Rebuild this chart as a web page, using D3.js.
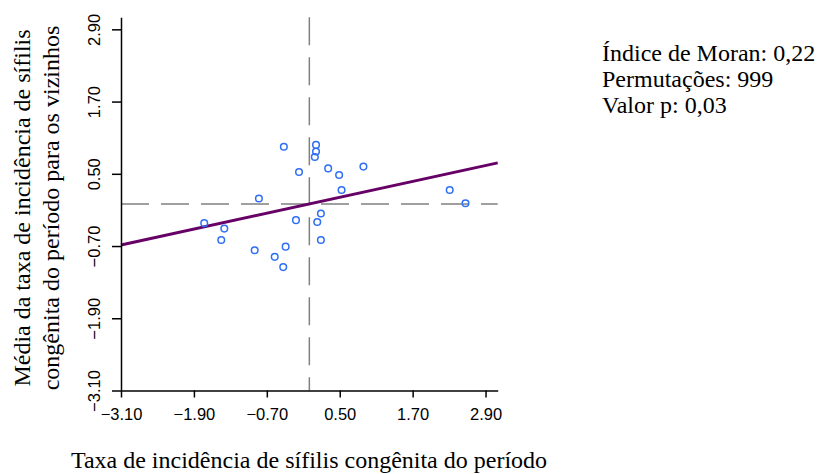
<!DOCTYPE html>
<html>
<head>
<meta charset="utf-8">
<script src="https://cdn.jsdelivr.net/npm/d3@7"></script>
<style>
  body { margin: 0; background: #fff; }
  svg { display: block; }
</style>
</head>
<body>
<svg id="chart" width="821" height="474"></svg>
<script>
// standardized rate (x) and spatial lag (y) per municipality
const zValues = [-0.42, 0.11, 0.11, 0.09, -0.17, 0.31, 0.49, 0.89, 0.53, -0.83, 2.31, 2.57,
  -1.73, -1.40, -1.45, -0.22, 0.19, 0.13, 0.19, -0.90, -0.39, -0.57, -0.43]
const lagValues = [0.95, 0.98, 0.87, 0.78, 0.53, 0.59, 0.48, 0.62, 0.23, 0.09, 0.23, 0.01,
  -0.32, -0.41, -0.60, -0.27, -0.16, -0.30, -0.60, -0.77, -0.71, -0.88, -1.05]
const tickValues = [-3.1, -1.9, -0.7, 0.5, 1.7, 2.9]
const moranI = 0.22
const statsLines = ['Índice de Moran: 0,22', 'Permutações: 999', 'Valor p: 0,03']

const svg = d3.select('#chart')

const x = d3.scaleLinear().domain([-3.1, 3.1]).range([121, 497.7])
const y = d3.scaleLinear().domain([-3.1, 3.1]).range([390.5, 17.3])

const serif = 'Liberation Serif, Times New Roman, serif'
const sans = 'Liberation Sans, Arial, sans-serif'

// mean lines (dashed)
svg.append('line')
  .attr('x1', x(0)).attr('x2', x(0))
  .attr('y1', y(3.1)).attr('y2', y(-3.1))
  .attr('stroke', '#808080').attr('stroke-width', 1.5)
  .attr('stroke-dasharray', '28,12')
svg.append('line')
  .attr('x1', x(-3.1)).attr('x2', x(3.1))
  .attr('y1', y(0)).attr('y2', y(0))
  .attr('stroke', '#808080').attr('stroke-width', 1.5)
  .attr('stroke-dasharray', '28,12')

// regression line, slope = Moran's I
svg.append('line')
  .attr('x1', x(-3.1)).attr('y1', y(-3.1 * moranI))
  .attr('x2', x(3.1)).attr('y2', y(3.1 * moranI))
  .attr('stroke', '#660066').attr('stroke-width', 3)

// points
svg.append('g')
  .selectAll('circle')
  .data(zValues)
  .join('circle')
  .attr('cx', (d) => x(d))
  .attr('cy', (d, i) => y(lagValues[i]))
  .attr('r', 3.3)
  .attr('fill', 'none')
  .attr('stroke', '#2f6ff5')
  .attr('stroke-width', 1.5)

const fmt = d3.format('.2f')

// x axis
const xAxis = svg.append('g')
  .attr('transform', `translate(0,${y(-3.1)})`)
  .call(d3.axisBottom(x).tickValues(tickValues).tickFormat(fmt).tickSize(7).tickSizeOuter(0).tickPadding(11))
xAxis.select('.domain').attr('stroke-width', 1.5)
xAxis.selectAll('.tick line').attr('stroke-width', 1.5)
xAxis.selectAll('text')
  .attr('font-family', sans)
  .attr('font-size', 16.5)
  .attr('fill', '#000')

// y axis
const yAxis = svg.append('g')
  .attr('transform', `translate(${x(-3.1)},0)`)
  .call(d3.axisLeft(y).tickValues(tickValues).tickFormat(fmt).tickSize(9).tickSizeOuter(0))
yAxis.select('.domain').attr('stroke-width', 1.5)
yAxis.selectAll('.tick line').attr('stroke-width', 1.5)
yAxis.selectAll('text')
  .attr('transform', 'rotate(-90)')
  .attr('x', 0).attr('y', -21).attr('dy', 0)
  .attr('text-anchor', 'middle')
  .attr('font-family', sans)
  .attr('font-size', 16.5)
  .attr('fill', '#000')

// axis titles
svg.append('text')
  .attr('x', 309).attr('y', 468)
  .attr('text-anchor', 'middle')
  .attr('font-family', serif)
  .attr('font-size', 24)
  .text('Taxa de incidência de sífilis congênita do período')

const yTitle = ['Média da taxa de incidência de sífilis', 'congênita do período para os vizinhos']
svg.append('g')
  .selectAll('text')
  .data(yTitle)
  .join('text')
  .attr('transform', (d, i) => `translate(${30 + i * 29},208) rotate(-90)`)
  .attr('text-anchor', 'middle')
  .attr('font-family', serif)
  .attr('font-size', 24)
  .text((d) => d)

// statistics
svg.append('g')
  .selectAll('text')
  .data(statsLines)
  .join('text')
  .attr('x', 602)
  .attr('y', (d, i) => 61 + i * 26)
  .attr('font-family', serif)
  .attr('font-size', 24)
  .text((d) => d)
</script>
</body>
</html>
